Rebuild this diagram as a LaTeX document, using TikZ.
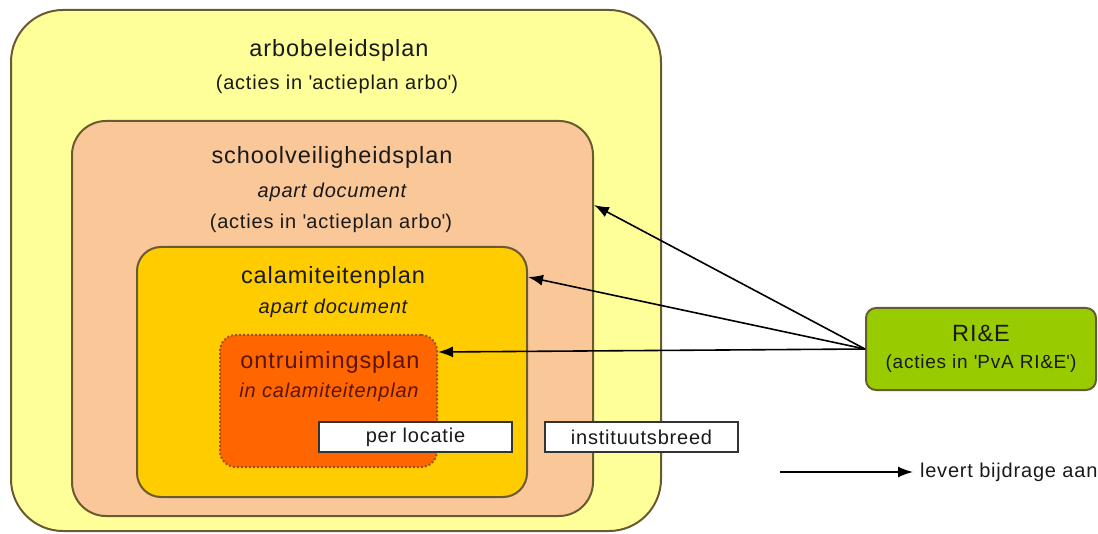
\documentclass[tikz,border=0pt]{standalone}
\usepackage{fontspec}
\setmainfont{Liberation Sans}[LetterSpace=4]
\usepackage{tikz}
\usetikzlibrary{arrows.meta,positioning,fit}
\definecolor{boxline}{RGB}{105,90,50}
\definecolor{arboyellow}{RGB}{255,255,153}
\definecolor{svpsalmon}{RGB}{250,200,152}
\definecolor{calagold}{RGB}{255,204,0}
\definecolor{ontrorange}{RGB}{255,102,0}
\definecolor{ontrline}{RGB}{160,80,20}
\definecolor{ontrtext}{RGB}{90,20,0}
\definecolor{riegreen}{RGB}{153,204,0}
\definecolor{txt}{RGB}{25,25,25}
\newcommand{\q}{\textquotesingle}

\begin{document}
\begin{tikzpicture}[x=0.5pt, y=-0.5pt,
  every node/.style={font=\fontsize{10}{12}\selectfont, text=txt},
  area/.style={draw=boxline, line width=1pt, inner sep=0pt},
  title/.style={font=\fontsize{11.75}{14}\selectfont},
  note/.style={font=\fontsize{10}{12}\selectfont\itshape},
  tag/.style={draw=black!80, fill=white, line width=0.75pt,
              minimum width=96.5pt, minimum height=15pt, inner sep=0pt},
  arr/.style={-{Latex[length=7.5pt,width=5.5pt]}, line width=0.8pt}
]
\useasboundingbox (0,0) rectangle (1098,534);

% nested plans
\node[area, fill=arboyellow, rounded corners=26pt, fit={(11,10) (661,531)}] (arbo) {};
\node[area, fill=svpsalmon, rounded corners=17pt, fit={(72,121) (593,516)}] (svp) {};
\node[area, fill=calagold, rounded corners=12pt, fit={(137,247) (527,497)}] (cala) {};
\node[area, draw=ontrline, densely dotted, fill=ontrorange, rounded corners=8pt,
      fit={(220,335) (437,467)}] (ontr) {};

\node[title] (arbot) at (339,50) {arbobeleidsplan};
\node (arbos) at (337,84) {(acties in \q actieplan arbo\q)};
\node[title] (svpt) at (332,157) {schoolveiligheidsplan};
\node[note] (svpn) at (332,192) {apart document};
\node (svps) at (331,223) {(acties in \q actieplan arbo\q)};
\node[title] (calat) at (333,277) {calamiteitenplan};
\node[note] (calan) at (333,308) {apart document};
\node[title, text=ontrtext] (ontrt) at (330,362) {ontruimingsplan};
\node[note, text=ontrtext] (ontrn) at (329,392) {in calamiteitenplan};

\node[tag] (perloc) at (415.5,437) {per locatie};
\node[tag] (inst) at (641.5,437) {instituutsbreed};

% risk inventory
\node[draw=boxline, fill=riegreen, line width=1pt, rounded corners=5pt,
      minimum width=115pt, minimum height=41pt, align=center, inner sep=0pt,
      font=\fontsize{9.5}{13.5}\selectfont] (rie) at (981,349)
      {{\fontsize{11.75}{14}\selectfont RI\&E}\\(acties in \q PvA RI\&E\q)};

\draw[arr] (rie.west) -- (svp.east |- 0,205);
\draw[arr] (rie.west) -- (cala.east |- 0,277);
\draw[arr] (rie.west) -- (ontr.east |- 0,352);

% legend
\coordinate (legs) at (780,472);
\node[anchor=west] (legt) at (913,472) {levert bijdrage aan};
\draw[arr] (legs) -- (legt.west);
\end{tikzpicture}
\end{document}
